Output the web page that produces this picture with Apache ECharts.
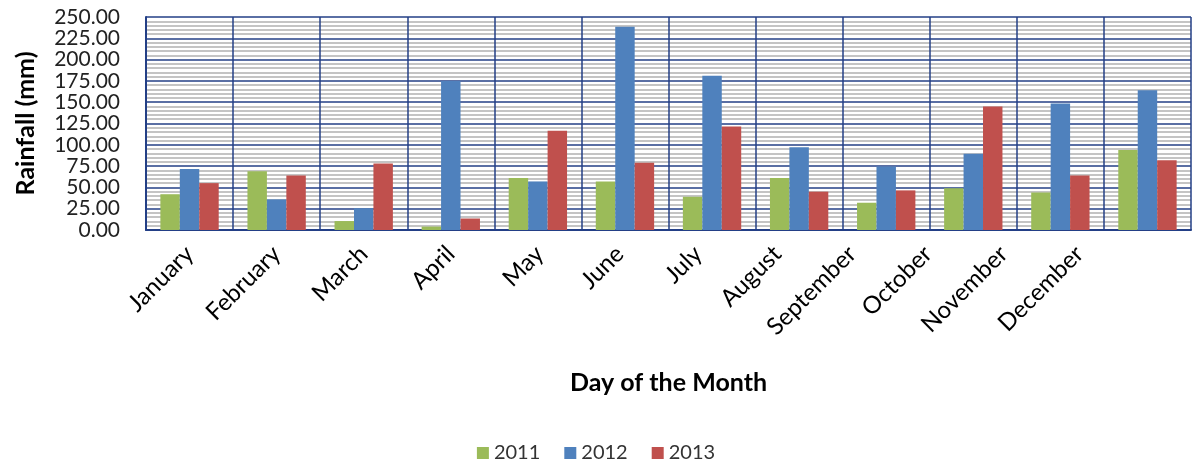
<!DOCTYPE html>
<html lang="en">
  <head>
    <meta charset="UTF-8" />
    <title>Rainfall by month</title>
    <style>
      html, body { margin: 0; padding: 0; width: 100%; height: 100%; overflow: hidden; background: #fff; }
      #chart { width: 1192px; height: 468px; }
    </style>
    <script src="https://cdnjs.cloudflare.com/ajax/libs/echarts/6.0.0/echarts.min.js"></script>
  </head>
  <body>
    <div id="chart"></div>
    <script>
      // data
      const months = ["January", "February", "March", "April", "May", "June",
        "July", "August", "September", "October", "November", "December"];
      const years = ["2011", "2012", "2013"];
      const rain2011 = [42, 69, 10.5, 4, 61, 57, 39, 61, 32, 49, 44, 94];
      const rain2012 = [71.5, 36, 25.5, 175, 57, 238.5, 181, 97, 74.5, 89.5, 148.5, 164];
      const rain2013 = [55, 64, 78, 13.5, 116.5, 79, 121.5, 45, 46.5, 145, 64, 82];
      const colors = ["#9bbb59", "#4f81bd", "#c0504d"];

      // the original's rotated month labels drift left in the right half
      // (offset in category widths)
      const labelOffset = [0, 0, 0, 0, 0.02, -0.06, -0.16, -0.25, -0.39, -0.52, -0.65, -0.78];
      const labelPos = months.map((m, i) => i + labelOffset[i]);

      const chart = echarts.init(document.getElementById("chart"));
      const font = "Lato, 'Open Sans', sans-serif";
      const navy = "#233f86";

      const option = {
        animation: false,
        color: colors,
        textStyle: { fontFamily: font },
        grid: { left: 146, right: 1, top: 17, bottom: 238 },
        legend: {
          bottom: 0,
          left: "center",
          itemWidth: 12,
          itemHeight: 12,
          itemGap: 24,
          icon: "rect",
          textStyle: { fontSize: 20, color: "#333", fontFamily: font },
          data: years
        },
        xAxis: [
          {
            type: "category",
            data: months,
            name: "Day of the Month",
            nameLocation: "middle",
            nameGap: 140,
            nameTextStyle: { fontSize: 25, fontWeight: "bold", color: "#000" },
            axisLine: { lineStyle: { color: navy, width: 2 } },
            axisTick: { show: false },
            splitLine: { show: true, lineStyle: { color: navy, width: 1.5 } },
            axisLabel: { show: false }
          },
          {
            // label-only axis, category i sits at value i
            type: "value",
            position: "bottom",
            min: -0.5,
            max: months.length - 0.5,
            axisLine: { show: false },
            axisTick: { show: false },
            splitLine: { show: false },
            axisLabel: {
              show: true,
              rotate: 45,
              fontSize: 24,
              color: "#000",
              margin: 20,
              hideOverlap: false,
              customValues: labelPos,
              formatter: v => {
                const k = labelPos.findIndex(p => Math.abs(p - v) < 1e-6);
                return k >= 0 ? months[k] : "";
              }
            }
          }
        ],
        yAxis: {
          type: "value",
          min: 0,
          max: 250,
          interval: 25,
          name: "Rainfall (mm)",
          nameLocation: "middle",
          nameGap: 108,
          nameTextStyle: { fontSize: 25, fontWeight: "bold", color: "#000" },
          axisLine: { show: true, onZero: false, lineStyle: { color: navy, width: 2 } },
          axisTick: { show: false },
          axisLabel: {
            fontSize: 21,
            color: "#222",
            margin: 26,
            showMinLabel: true,
            showMaxLabel: true,
            hideOverlap: false,
            lineHeight: 16,
            formatter: v => v.toFixed(2)
          },
          splitLine: { lineStyle: { color: navy, width: 1.5 } },
          minorTick: { show: false, splitNumber: 5 },
          minorSplitLine: { show: true, lineStyle: { color: "#c4c4c4", width: 2 } }
        },
        series: [
          { name: years[0], type: "bar", data: rain2011, barGap: "0%", barCategoryGap: "33%" },
          { name: years[1], type: "bar", data: rain2012, barGap: "0%", barCategoryGap: "33%" },
          { name: years[2], type: "bar", data: rain2013, barGap: "0%", barCategoryGap: "33%" }
        ]
      };

      chart.setOption(option);
    </script>
  </body>
</html>
